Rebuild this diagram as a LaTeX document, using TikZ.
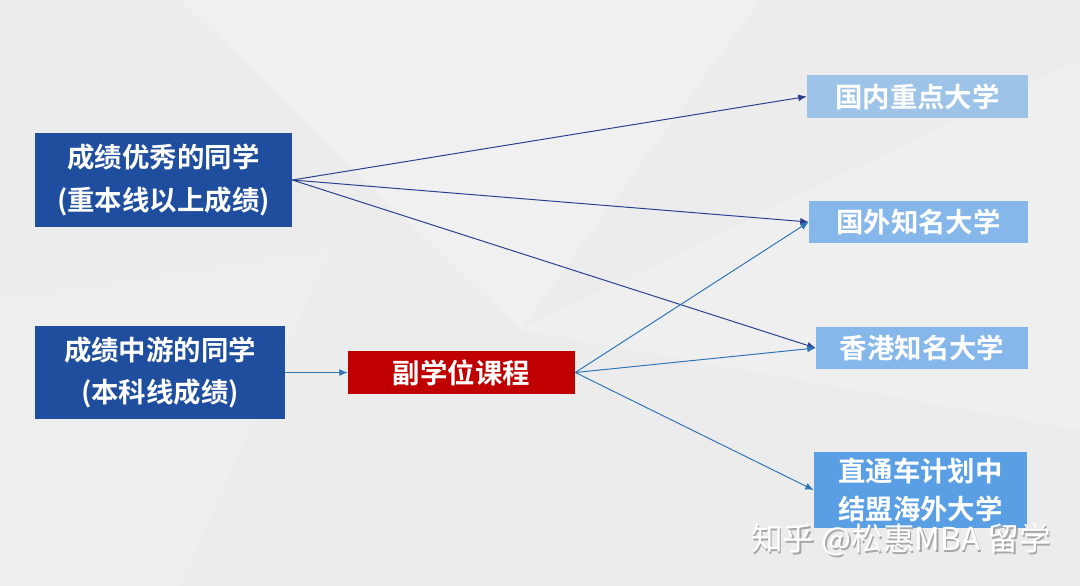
\documentclass[tikz,border=0pt]{standalone}
\usepackage{fontspec}
\setmainfont{Noto Sans CJK SC}[BoldFont={Noto Sans CJK SC Bold}]
\usetikzlibrary{arrows.meta}

\definecolor{gradeblue}{HTML}{1F4E9E}
\definecolor{courseRed}{HTML}{C00000}
\definecolor{uniLight}{HTML}{9DC3E8}
\definecolor{uniMid}{HTML}{86B7EA}
\definecolor{uniDeep}{HTML}{5A9FE4}
\definecolor{lineDark}{HTML}{2B3F8E}
\definecolor{lineMid}{HTML}{2E75B6}

\begin{document}
\begin{tikzpicture}[x=0.025cm, y=-0.025cm,
		box/.style={text=white, align=center, inner sep=0pt,
			font=\bfseries\fontsize{19.5}{30}\selectfont},
		grade/.style={box, fill=gradeblue},
		course/.style={box, fill=courseRed},
		uni/.style={box, fill=uniMid},
		link/.style={-{Latex[length=6pt,width=5pt]}, line width=0.7pt}]

		% background
		\fill[gray!15] (0, 0) rectangle (1080, 586);
		\fill[white, opacity=0.22] (180, 0) -- (760, 0) -- (520, 330) -- cycle;
		\fill[white, opacity=0.18] (520, 330) -- (1080, 60) -- (1080, 430) -- cycle;
		\fill[white, opacity=0.12] (0, 300) -- (330, 250) -- (180, 586) -- (0, 586) -- cycle;
		\useasboundingbox (0, 0) rectangle (1080, 586);

		% left column
		\node[grade, minimum width=6.425cm, minimum height=2.35cm] (good) at (163.5, 180) {成绩优秀的同学\\(重本线以上成绩)};
		\node[grade, minimum width=6.25cm, minimum height=2.325cm] (mid) at (160, 372.5) {成绩中游的同学\\(本科线成绩)};

		% middle
		\node[course, minimum width=5.675cm, minimum height=1.075cm] (sub) at (461.5, 372.5) {副学位课程};

		% right column
		\node[uni, fill=uniLight, minimum width=5.525cm, minimum height=1.075cm] (dom) at (917.5, 96.5) {国内重点大学};
		\node[uni, minimum width=5.475cm, minimum height=1.05cm] (intl) at (918.5, 222) {国外知名大学};
		\node[uni, minimum width=5.3cm, minimum height=1.05cm] (hk) at (922, 348) {香港知名大学};
		\node[uni, fill=uniDeep, font=\bfseries\fontsize{19.5}{27}\selectfont,
			minimum width=5.325cm, minimum height=1.9cm] (direct) at (920.5, 490) {直通车计划中\\结盟海外大学};

		\draw[link, lineDark] (good.east) -- (dom.west);
		\draw[link, lineDark] (good.east) -- (intl.west);
		\draw[link, lineDark] (good.east) -- (hk.west);

		\draw[link, lineMid] (mid.east) -- (sub.west);

		\draw[link, lineMid] (sub.east) -- (intl.west);
		\draw[link, lineMid] (sub.east) -- (hk.west);
		\draw[link, lineMid] (sub.east) -- (direct.west);

		% watermark
		\node[text=gray!70, font=\fontsize{22.5}{22.5}\selectfont] (markshade) at (902.5, 541.5) {知乎 @松惠MBA 留学};
		\node[text=white, font=\fontsize{22.5}{22.5}\selectfont] (mark) at (901, 540) {知乎 @松惠MBA 留学};
	\end{tikzpicture}
\end{document}
